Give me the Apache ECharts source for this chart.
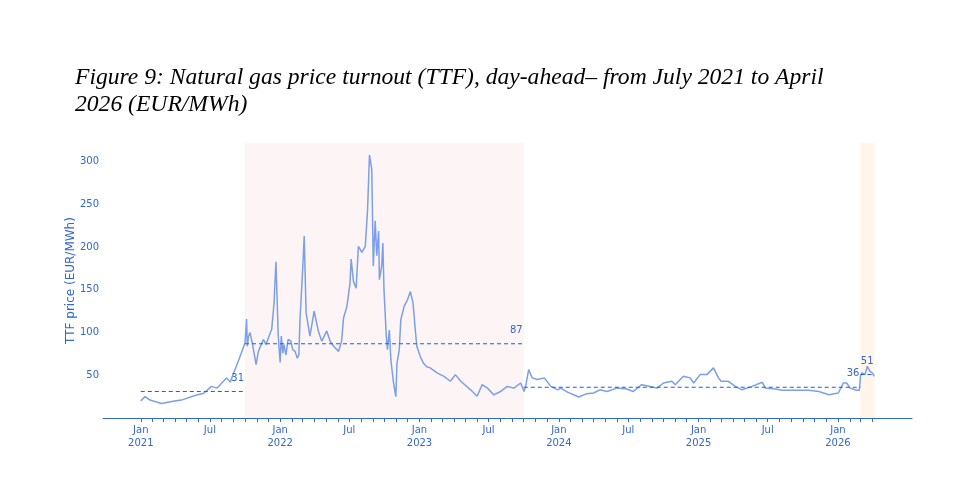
<!DOCTYPE html>
<html>
<head>
<meta charset="utf-8">
<script src="https://cdn.jsdelivr.net/npm/echarts@6/dist/echarts.min.js"></script>
<style>html,body{margin:0;padding:0;background:#fff}#c{width:958px;height:499px}</style>
</head>
<body>
<div id="c"></div>
<script>
const titleText = 'Figure 9: Natural gas price turnout (TTF), day-ahead\u2013 from July 2021 to April\n2026 (EUR/MWh)';
const yAxisName = 'TTF price (EUR/MWh)';

const dates = [
'2021-01-01','2021-01-12','2021-01-25','2021-02-24','2021-03-27','2021-04-21','2021-05-27','2021-06-15','2021-07-05','2021-07-20',
'2021-08-14','2021-08-23','2021-09-05','2021-09-18','2021-10-01','2021-10-05','2021-10-07','2021-10-10','2021-10-14','2021-10-20',
'2021-10-30','2021-11-05','2021-11-10','2021-11-18','2021-11-25','2021-12-03','2021-12-10','2021-12-16','2021-12-21','2021-12-27',
'2022-01-01','2022-01-04','2022-01-08','2022-01-11','2022-01-16','2022-01-22','2022-01-29','2022-02-03','2022-02-09','2022-02-15',
'2022-02-19','2022-02-22','2022-03-01','2022-03-05','2022-03-10','2022-03-20','2022-03-31','2022-04-11','2022-04-20','2022-05-03',
'2022-05-12','2022-05-21','2022-06-03','2022-06-11','2022-06-16','2022-06-25','2022-07-03','2022-07-06','2022-07-12','2022-07-19',
'2022-07-25','2022-08-03','2022-08-12','2022-08-18','2022-08-23','2022-08-29','2022-09-02','2022-09-07','2022-09-11','2022-09-16',
'2022-09-18','2022-09-24','2022-09-27','2022-09-30','2022-10-06','2022-10-09','2022-10-14','2022-10-18','2022-10-25','2022-10-31',
'2022-11-03','2022-11-09','2022-11-13','2022-11-22','2022-12-01','2022-12-08','2022-12-15','2022-12-21','2022-12-25','2023-01-03',
'2023-01-11','2023-01-20','2023-01-29','2023-02-16','2023-03-06','2023-03-23','2023-04-05','2023-04-19','2023-05-15','2023-06-01',
'2023-06-14','2023-06-28','2023-07-15','2023-08-01','2023-08-19','2023-09-05','2023-09-23','2023-10-02','2023-10-06','2023-10-14',
'2023-10-23','2023-11-06','2023-11-24','2023-12-11','2023-12-29','2024-01-06','2024-01-25','2024-02-22','2024-03-14','2024-04-01',
'2024-04-18','2024-05-06','2024-06-01','2024-06-27','2024-07-14','2024-08-05','2024-08-27','2024-09-14','2024-10-01','2024-10-23',
'2024-11-01','2024-11-22','2024-12-10','2024-12-19','2025-01-05','2025-01-23','2025-02-09','2025-02-22','2025-03-01','2025-03-20',
'2025-04-07','2025-04-25','2025-05-21','2025-06-17','2025-06-25','2025-07-21','2025-08-08','2025-09-12','2025-10-17','2025-11-12',
'2025-12-08','2026-01-02','2026-01-15','2026-01-24','2026-02-02','2026-02-20','2026-02-26','2026-03-01','2026-03-05','2026-03-13',
'2026-03-19','2026-03-26','2026-04-01','2026-04-06'
];
const prices = [
20,25,21,17,19.5,21.5,27,29,37,35,
47,42,56.7,72,88,116,84,95,100,88,
62.5,78,76,92,86,96,104,135,183,96,
65,96,76,86,74,92,90,80,78,70,
74,115,174,213,123,96,125,102,90,102,
90,84,78,90,117,131,158,186,160,152,
201,194,201,244,308,291,178,231,190,219,
162,178,205,150,96,80,103,68,41,25,
64,80,115,131,139,148,135,103,84,72,
64.5,60,58.7,52.8,48.8,43,50.8,43,33,25.4,
39,35,27,31,37,35,41,31,37,56.7,
47,45,47,37,33,35,30,24.6,28.5,29.3,
33,31,35,34,31,39,37,35,41,43,
39,48.8,47,41,50.8,50.8,58.7,47,43,43,
37,33,37,41.8,35,34,32.4,32.4,32.4,31,
27.3,29.3,41,41,35,32.4,32.4,48.8,52.8,50.8,
60.6,54.7,52.8,48.8
];

// period averages (dashed lines)
const periodStarts = ['2021-01-01','2021-10-01','2023-10-01','2026-03-01'];
const periodEnds   = ['2021-10-01','2023-10-01','2026-03-01','2026-04-07'];
const periodMeans  = [31, 87, 36, 51];

// shaded periods
const shadeStarts = ['2021-10-01','2026-03-01'];
const shadeEnds   = ['2023-10-01','2026-04-07'];
const shadeColors = ['rgba(250,232,232,0.42)','rgba(255,236,214,0.55)'];

const yTickValues = [50,100,150,200,250,300];
const xLabelDates = ['2021-01-01','2021-07-01','2022-01-01','2022-07-01','2023-01-01','2023-07-01',
  '2024-01-01','2024-07-01','2025-01-01','2025-07-01','2026-01-01'];
const xTickFirst = [2021, 0], xTickLast = [2026, 3];
const xRange = ['2020-09-24', '2026-07-14'];

function ts(s){ const p = s.split('-').map(Number); return Date.UTC(p[0], p[1]-1, p[2]); }
const monthTicks = [];
for (let y = xTickFirst[0], m = xTickFirst[1]; y < xTickLast[0] || (y === xTickLast[0] && m <= xTickLast[1]); ) {
  monthTicks.push(Date.UTC(y, m, 1));
  m++; if (m > 11) { m = 0; y++; }
}
const labelTicks = xLabelDates.map(ts);

const blue = '#3366d6';
const dashBlue = '#1c5cf0';

const meanSeries = periodStarts.map((s, i) => ({
  type: 'line', silent: true, symbol: 'circle', symbolSize: 1, showSymbol: true, z: 4,
  lineStyle: { color: dashBlue, width: 1.1, type: [4, 3] },
  itemStyle: { color: 'rgba(0,0,0,0)' },
  data: [
    [ts(s), periodMeans[i]],
    { value: [ts(periodEnds[i]), periodMeans[i]],
      label: { show: true, position: 'top', align: 'right', distance: 8, offset: [-1, 0],
               formatter: String(periodMeans[i]), color: blue, fontFamily: 'DejaVu Sans', fontSize: 10 } }
  ]
}));

const chart = echarts.init(document.getElementById('c'));
chart.setOption({
  animation: false,
  backgroundColor: '#ffffff',
  title: {
    text: titleText, left: 70, top: 59,
    textStyle: { fontFamily: 'Liberation Serif', fontStyle: 'italic', fontWeight: 'normal', fontSize: 23.6, color: '#000', lineHeight: 27 }
  },
  grid: { left: 103, right: 46, top: 143, bottom: 81 },
  xAxis: {
    type: 'value', min: ts(xRange[0]), max: ts(xRange[1]), scale: true,
    axisLine: { show: true, lineStyle: { color: blue, width: 1 } },
    axisTick: { show: true, customValues: monthTicks, length: 4, lineStyle: { color: blue } },
    axisLabel: {
      customValues: labelTicks, color: blue, fontFamily: 'DejaVu Sans', fontSize: 10, lineHeight: 13, margin: 6,
      formatter: function (v) { const d = new Date(v); return d.getUTCMonth() === 0 ? 'Jan\n' + d.getUTCFullYear() : 'Jul'; }
    },
    splitLine: { show: false }
  },
  yAxis: {
    type: 'value', min: 0, max: 322,
    name: yAxisName, nameLocation: 'middle', nameGap: 26, nameMoveOverlap: false,
    nameTextStyle: { color: blue, fontFamily: 'DejaVu Sans', fontSize: 12 },
    axisLine: { show: false }, axisTick: { show: false }, splitLine: { show: false },
    axisLabel: { customValues: yTickValues, color: blue, fontFamily: 'DejaVu Sans', fontSize: 10, margin: 4 }
  },
  series: [{
    type: 'line', showSymbol: false, symbol: 'none',
    data: dates.map((d, i) => [ts(d), prices[i]]),
    lineStyle: { color: '#7b9fe8', width: 1.5 },
    itemStyle: { color: '#7b9fe8' },
    z: 3,
    markArea: {
      silent: true,
      data: shadeStarts.map((s, i) => [{ xAxis: ts(s), itemStyle: { color: shadeColors[i] } }, { xAxis: ts(shadeEnds[i]) }])
    }
  }].concat(meanSeries)
});
</script>
</body>
</html>
